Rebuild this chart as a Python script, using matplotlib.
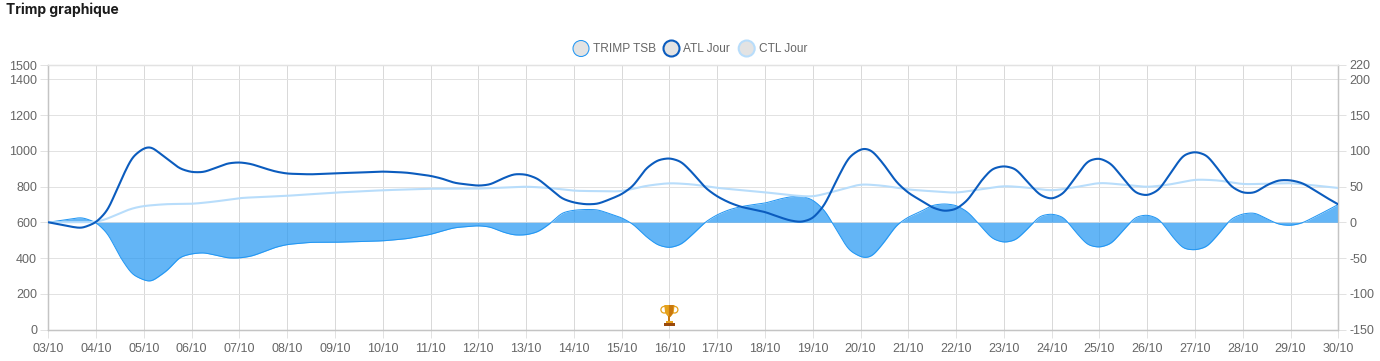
import numpy as np
import matplotlib
matplotlib.use("Agg")
import matplotlib.pyplot as plt
from matplotlib.patches import Polygon, Circle, Rectangle, Ellipse
from matplotlib.offsetbox import DrawingArea, AnnotationBbox

title = "Trimp graphique"
dates = ["03/10","04/10","05/10","06/10","07/10","08/10","09/10","10/10","11/10","12/10","13/10","14/10","15/10","16/10",
         "17/10","18/10","19/10","20/10","21/10","22/10","23/10","24/10","25/10","26/10","27/10","28/10","29/10","30/10"]
series_names = ["TRIMP TSB", "ATL Jour", "CTL Jour"]
left_ticks = [0,200,400,600,800,1000,1200,1400,1480]
left_labels = ["0","200","400","600","800","1000","1200","1400","1500"]
right_ticks = [-150,-100,-50,0,50,100,150,200,220]
right_labels = ["-150","-100","-50","0","50","100","150","200","220"]
trophy_day = "16/10"

# day index, right-hand scale
t_fine = [0,.5,.7,1,1.25,1.5,1.75,2,2.15,2.5,2.75,3,3.25,3.5,3.75,4,4.25,4.5,4.75,5,5.5,6,6.5,7,7.5,8,8.25,8.5,
          9,9.25,9.5,9.75,10,10.25,10.5,10.75,11,11.25,11.5,11.75,12,12.25,12.5,12.75,13,13.25,13.5,13.75,14,14.25,14.5,14.75,
          15,15.25,15.5,15.75,16,16.25,16.5,16.75,17,17.1,17.25,17.5,17.75,18,18.25,18.5,18.75,19,19.25,19.5,19.75,
          20,20.25,20.5,20.75,21,21.25,21.5,21.75,22,22.25,22.5,22.75,23,23.25,23.5,23.75,24,24.25,24.5,24.75,25,25.25,25.5,25.75,26,26.25,26.5,26.75,27]
atl = [0,-6.5,-8.4,-.5,17,56,91,104,106,88,75,70,70,76,82.5,84,81.6,76,71,68,67,68.5,69.5,71,69.5,65,61,55,
       51,52.7,61,67.6,67,61,47,33,27.5,25,25.6,32,39,51,75,87,90,85,68,48,36,27.5,21.4,18,
       14.5,8.4,2.8,0,5,24,59,91,102.5,103.5,100,80,56,41,31,20.5,15.4,18,31,56,75,
       79,75,56,38,32,40,63,86,90,82,61,41,37,45,70,94,99,94,73,50,41,41,52,59,59,55,45,34.5,25]
tsb = [0,5,7,0,-16,-48.5,-73,-81,-83.5,-67,-48.5,-44,-42.4,-46,-50,-50,-47.5,-41.5,-35,-31,-28,-28,-27,-26,-23,-17,-12,-7.5,
       -4.7,-6.5,-13.5,-18,-17.7,-13.5,-2,13.5,17,18,17.7,12,6.5,-3,-19.6,-32,-36,-31,-16,.5,10.7,17.7,22,24.7,
       26.6,31.7,35.4,37,31.7,17,-11,-39,-48.5,-50,-47.5,-27.5,-4,7.5,14.5,24,26,24,14.5,-4,-23,
       -28.5,-25,-9,9,12,7.5,-13.5,-32,-35.4,-30,-11,7.5,10.7,5,-18,-37,-39,-34.5,-16,5,12,13.5,5,-3,-4.7,-1,7.5,16,25]
t_ctl = [0,.5,1,1.25,1.5,1.75,2,2.5,3,3.5,4,5,6,7,8,9,10,10.5,11,12,12.5,13,13.5,14,15,15.5,16,16.5,17,17.5,18,19,19.5,20,20.5,21,21.5,22,22.5,23,23.5,24,24.5,25,26,27]
ctl = [0,0,0,5,13,19.6,23,25.6,25.6,29,34,37,41.5,44.8,47,47,50,48,44,43,51,55,53,48,42,38,35.4,44,53.6,51,45.7,41,46,51,48.5,44,49,55.5,52.7,49,53,60,58.7,53,55,48]

def smooth(xs, ys, sigma=0.07):
    """Rounds the read values into a soft curve, like the chart's bezier tension."""
    grid_x = np.arange(xs[0], xs[-1] + 0.005, 0.01)
    raw = np.interp(grid_x, xs, ys)
    half = int(4 * sigma / 0.01)
    k = np.exp(-0.5 * (np.arange(-half, half + 1) * 0.01 / sigma) ** 2)
    k /= k.sum()
    out = np.convolve(np.pad(raw, half, mode="reflect", reflect_type="odd"), k, mode="valid")
    return grid_x, out

W, H = 1380, 361
plt.rcParams["font.family"] = ["Liberation Sans", "DejaVu Sans"]
fig = plt.figure(figsize=(W/100, H/100), dpi=100)
L, R, T, B = 48.3, 1338.3, 65.0, 329.5
ax = fig.add_axes([L/W, 1-B/H, (R-L)/W, (B-T)/H])
ax2 = ax.twinx()
grid = "#e2e2e2"; edge = "#c4c4c4"; txt = "#666666"
ax.set_xlim(0, len(dates)-1); ax.set_ylim(0, 1480); ax2.set_ylim(-150, 220)
ax.set_xticks(range(len(dates))); ax.set_xticklabels(dates)
ax.set_yticks(left_ticks); ax.set_yticklabels(left_labels)
ax2.set_yticks(right_ticks); ax2.set_yticklabels(right_labels)
ax.grid(True, color=grid, lw=0.72)
ax.xaxis.grid(True, color="#d9d9d9", lw=0.72)
ax.set_axisbelow(True)
ax.tick_params(axis="both", length=5.6, width=0.72, color=grid, labelcolor=txt, labelsize=9)
ax.tick_params(axis="x", pad=4.2); ax.tick_params(axis="y", pad=2.5)
ax2.tick_params(axis="y", length=5.6, width=0.72, color=grid, labelcolor=txt, labelsize=9, pad=2.2)
for a in (ax, ax2):
    a.spines["top"].set_color(grid); a.spines["bottom"].set_color(edge)
    a.spines["left"].set_color(edge); a.spines["right"].set_color(edge)
    a.spines[:].set_linewidth(0.9)
ax2.patch.set_visible(False)

c_tsb, c_atl, c_ctl = "#2196F3", "#0B5CBE", "#B8DDFB"
x, y = smooth(t_fine, tsb)
ax2.fill_between(x, 0, y, color="#2196F3", alpha=0.7, lw=0, zorder=2)
ax2.plot(x, y, color=c_tsb, lw=0.72, zorder=2.1)
x, y = smooth(t_ctl, ctl, sigma=0.12)
ax2.plot(x, y, color=c_ctl, lw=1.5, zorder=3, solid_capstyle="round")
x, y = smooth(t_fine, atl)
ax2.plot(x, y, color=c_atl, lw=1.5, zorder=4, solid_capstyle="round")

# trophy, drawn in a small box whose units are points
s = 0.68
def p(*pts):
    return [(a * s, b * s) for a, b in pts]
da = DrawingArea(22 * s, 24 * s, 0, 0, clip=False)
gold, deep, dark = "#E5A11B", "#C9780E", "#9A4A0C"
da.add_artist(Ellipse((5.5*s, 18*s), 7*s, 7*s, fc="none", ec=gold, lw=0.9))
da.add_artist(Ellipse((16.5*s, 18*s), 7*s, 7*s, fc="none", ec=gold, lw=0.9))
da.add_artist(Polygon(p((5.5,23),(16.5,23),(15.5,14.5),(12.3,10.5),(9.7,10.5),(6.5,14.5)), fc=gold, ec="none"))
da.add_artist(Polygon(p((10.5,23),(15.5,23),(14.5,14),(12,10.5),(10.5,10.5)), fc=deep, ec="none"))
da.add_artist(Rectangle((10*s, 5*s), 2*s, 6*s, fc=deep, ec="none"))
da.add_artist(Rectangle((7.5*s, 3.5*s), 7*s, 2.5*s, fc=gold, ec="none"))
da.add_artist(Rectangle((5.5*s, 0.5*s), 11*s, 3*s, fc=dark, ec="none"))
ab = AnnotationBbox(da, (dates.index(trophy_day), -150), xybox=(0, 2), boxcoords="offset points",
                    box_alignment=(0.5, 0), frameon=False, pad=0, zorder=6, annotation_clip=False)
ax2.add_artist(ab)

# title + legend
fig.text(6.5/W, 1-10/H, title, fontsize=10, fontweight="bold", color="#1c1c1c", family="Inter", va="center", ha="left")
legend_x = [(581, 593), (671.5, 683), (746.7, 759)]
overlay = fig.add_axes([0, 0, 1, 1]); overlay.set_xlim(0, W); overlay.set_ylim(H, 0); overlay.axis("off")
for (cx, tx), name, c, lw in zip(legend_x, series_names, (c_tsb, c_atl, c_ctl), (0.75, 1.5, 1.5)):
    overlay.add_patch(Circle((cx, 48.5), 8, fc="#E3E3E3", ec=c, lw=lw))
    overlay.text(tx, 48.5, name, fontsize=8.6, color=txt, va="center", ha="left")

fig.savefig("out.png", dpi=100)
